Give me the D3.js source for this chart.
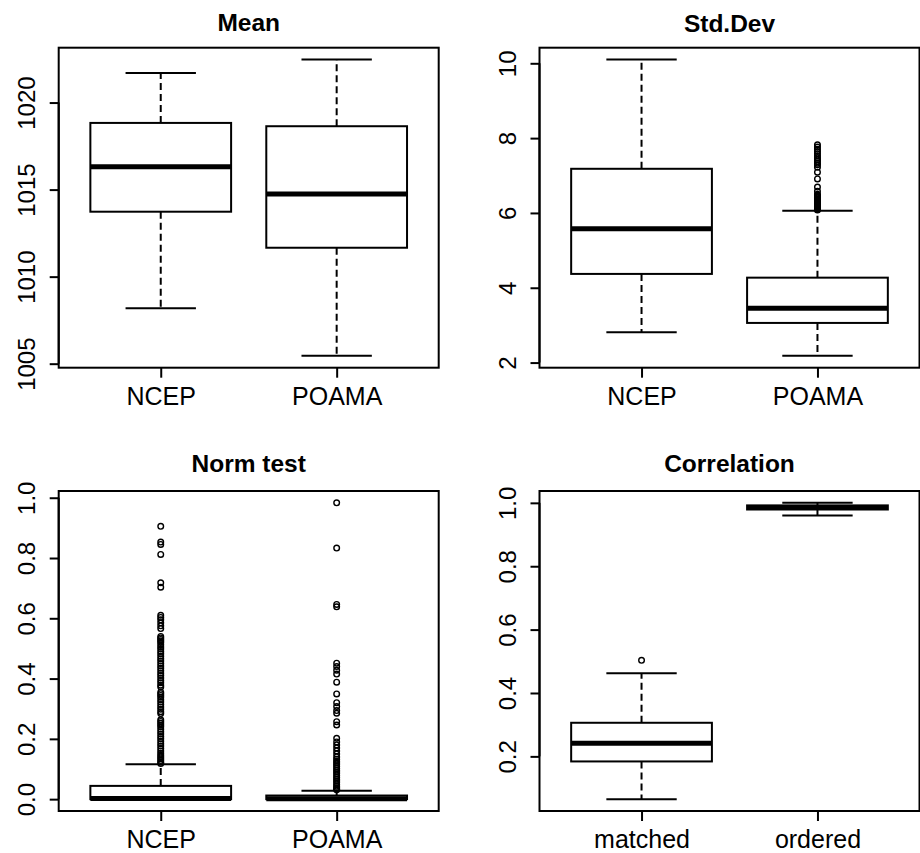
<!DOCTYPE html>
<html>
<head>
<meta charset="utf-8">
<script src="https://cdn.jsdelivr.net/npm/d3@7"></script>
<style>
  html, body { margin: 0; padding: 0; background: #fff; }
  svg { display: block; font-family: "Liberation Sans", Arial, Helvetica, sans-serif; }
</style>
</head>
<body>
<svg id="chart" width="920" height="853"></svg>
<script>
// ---------------- DATA ----------------
const categoriesModel = ["NCEP", "POAMA"];
const categoriesCorr = ["matched", "ordered"];
const titles = ["Mean", "Std.Dev", "Norm test", "Correlation"];

// box statistics: [lower whisker, Q1, median, Q3, upper whisker]
const meanNCEP  = [1008.19, 1013.73, 1016.31, 1018.83, 1021.70];
const meanPOAMA = [1005.45, 1011.66, 1014.74, 1018.64, 1022.47];

const sdNCEP  = [2.81, 4.37, 5.58, 7.18, 10.10];
const sdPOAMA = [2.18, 3.06, 3.45, 4.27, 6.06];
const sdPOAMAOutliers = [7.82, 7.76, 7.70, 7.64, 7.58, 7.52, 7.47, 7.42, 7.38, 7.33, 7.29, 7.22, 7.09,
  6.91, 6.69, 6.58, 6.50, 6.47, 6.44, 6.42, 6.40, 6.38, 6.36, 6.34, 6.32, 6.30, 6.28, 6.26,
  6.24, 6.22, 6.20, 6.18, 6.16, 6.14, 6.12, 6.10, 6.08];

const normNCEP  = [0.000, 0.000, 0.002, 0.044, 0.116];
const normNCEPOutliers = [0.905, 0.853, 0.845, 0.812, 0.718, 0.703, 0.610, 0.603, 0.595, 0.585,
  0.575, 0.566, 0.540, 0.535, 0.530, 0.525, 0.520, 0.512, 0.505, 0.498, 0.490, 0.482, 0.474,
  0.466, 0.458, 0.450, 0.442, 0.434, 0.426, 0.418, 0.410, 0.402, 0.394, 0.386, 0.378, 0.372,
  0.355, 0.350, 0.344, 0.338, 0.330, 0.322, 0.314, 0.306, 0.298, 0.290, 0.284, 0.263, 0.258,
  0.252, 0.246, 0.240, 0.232, 0.224, 0.216, 0.208, 0.200, 0.192, 0.184, 0.176, 0.168, 0.160,
  0.152, 0.146, 0.140, 0.134, 0.128, 0.122, 0.118];
const normPOAMA = [0.000, 0.000, 0.001, 0.012, 0.028];
const normPOAMAOutliers = [0.983, 0.833, 0.646, 0.638, 0.451, 0.440, 0.428, 0.415, 0.388, 0.349,
  0.320, 0.307, 0.294, 0.285, 0.257, 0.246, 0.202, 0.190, 0.180, 0.170, 0.160, 0.150, 0.140,
  0.132, 0.126, 0.120, 0.114, 0.108, 0.102, 0.096, 0.090, 0.084, 0.078, 0.072, 0.066, 0.060,
  0.054, 0.048, 0.043, 0.038, 0.034, 0.031];

const corrMatched = [0.065, 0.184, 0.241, 0.306, 0.462];
const corrMatchedOutliers = [0.503];
const corrOrdered = [0.960, 0.979, 0.985, 0.992, 1.000];

const ticksMean = [1005, 1010, 1015, 1020];
const ticksSd = [2, 4, 6, 8, 10];
const ticksNorm = [0, 0.2, 0.4, 0.6, 0.8, 1.0];
const ticksCorr = [0.2, 0.4, 0.6, 0.8, 1.0];

// ---------------- PANELS ----------------
const panels = [
  { title: titles[0], cats: categoriesModel, boxes: [meanNCEP, meanPOAMA], outliers: [[], []],
    ticks: ticksMean, fmt: d3.format("d"),
    box: { x0: 58.7, x1: 438.7, y0: 47.7, y1: 367.7 }, titleY: 30.7 },
  { title: titles[1], cats: categoriesModel, boxes: [sdNCEP, sdPOAMA], outliers: [[], sdPOAMAOutliers],
    ticks: ticksSd, fmt: d3.format("d"),
    box: { x0: 539.5, x1: 919.5, y0: 47.7, y1: 367.7 }, titleY: 31.5 },
  { title: titles[2], cats: categoriesModel, boxes: [normNCEP, normPOAMA], outliers: [normNCEPOutliers, normPOAMAOutliers],
    ticks: ticksNorm, fmt: d3.format(".1f"),
    box: { x0: 58.7, x1: 438.7, y0: 491, y1: 811 }, titleY: 471.7 },
  { title: titles[3], cats: categoriesCorr, boxes: [corrMatched, corrOrdered], outliers: [corrMatchedOutliers, []],
    ticks: ticksCorr, fmt: d3.format(".1f"),
    box: { x0: 539.5, x1: 919.5, y0: 491, y1: 811 }, titleY: 471.7 }
];

const svg = d3.select("#chart");
const FONT_Y = 24, FONT_X = 25, FONT_T = 24.5;

panels.forEach(p => {
  const g = svg.append("g");
  const b = p.box;

  const allVals = [].concat(...p.boxes, ...p.outliers);
  const [mn, mx] = d3.extent(allVals);
  const ext = (mx - mn) * 0.04;
  const y = d3.scaleLinear().domain([mn - ext, mx + ext]).range([b.y1, b.y0]);
  const x = d3.scaleLinear().domain([0.42, 2.58]).range([b.x0, b.x1]);

  // boxes
  p.boxes.forEach((s, i) => {
    const c = i + 1;
    const [lo, q1, med, q3, hi] = s;
    // whiskers (dashed)
    g.append("line").attr("x1", x(c)).attr("x2", x(c)).attr("y1", y(q3)).attr("y2", y(hi))
      .attr("stroke", "#000").attr("stroke-width", 2).attr("stroke-dasharray", "7,4");
    g.append("line").attr("x1", x(c)).attr("x2", x(c)).attr("y1", y(q1)).attr("y2", y(lo))
      .attr("stroke", "#000").attr("stroke-width", 2).attr("stroke-dasharray", "7,4");
    // staples
    [lo, hi].forEach(v => {
      g.append("line").attr("x1", x(c - 0.2)).attr("x2", x(c + 0.2)).attr("y1", y(v)).attr("y2", y(v))
        .attr("stroke", "#000").attr("stroke-width", 2);
    });
    // box
    g.append("rect").attr("x", x(c - 0.4)).attr("width", x(c + 0.4) - x(c - 0.4))
      .attr("y", y(q3)).attr("height", Math.max(0, y(q1) - y(q3)))
      .attr("fill", "none").attr("stroke", "#000").attr("stroke-width", 2);
    // median
    g.append("line").attr("x1", x(c - 0.4)).attr("x2", x(c + 0.4)).attr("y1", y(med)).attr("y2", y(med))
      .attr("stroke", "#000").attr("stroke-width", 5);
    // outliers
    g.selectAll(null).data(p.outliers[i]).enter().append("circle")
      .attr("cx", x(c)).attr("cy", d => y(d)).attr("r", 2.8)
      .attr("fill", "none").attr("stroke", "#000").attr("stroke-width", 1.4);
  });

  // frame
  g.append("rect").attr("x", b.x0).attr("y", b.y0).attr("width", b.x1 - b.x0).attr("height", b.y1 - b.y0)
    .attr("fill", "none").attr("stroke", "#000").attr("stroke-width", 2);

  // y axis
  const ya = g.append("g").attr("transform", `translate(${b.x0},0)`)
    .call(d3.axisLeft(y).tickValues(p.ticks).tickFormat(p.fmt).tickSize(9).tickSizeOuter(0));
  ya.select(".domain").remove();
  ya.append("line").attr("x1", 0).attr("x2", 0)
    .attr("y1", y(p.ticks[0])).attr("y2", y(p.ticks[p.ticks.length - 1]))
    .attr("stroke", "#000").attr("stroke-width", 2);
  ya.selectAll(".tick line").attr("stroke", "#000").attr("stroke-width", 2);
  ya.selectAll(".tick text")
    .attr("transform", "rotate(-90)")
    .attr("x", 0).attr("y", -24).attr("dy", null)
    .attr("text-anchor", "middle")
    .attr("fill", "#000")
    .style("font-size", FONT_Y + "px")
    .style("font-family", "'Liberation Sans', Arial, sans-serif");

  // x axis
  const xa = g.append("g").attr("transform", `translate(0,${b.y1})`)
    .call(d3.axisBottom(x).tickValues([1, 2]).tickFormat(d => p.cats[d - 1]).tickSize(10).tickSizeOuter(0));
  xa.select(".domain").remove();
  xa.selectAll(".tick line").attr("stroke", "#000").attr("stroke-width", 2);
  xa.selectAll(".tick text")
    .attr("y", 37).attr("dy", null)
    .attr("fill", "#000")
    .style("font-size", FONT_X + "px")
    .style("font-family", "'Liberation Sans', Arial, sans-serif");

  // title
  g.append("text").attr("x", (b.x0 + b.x1) / 2).attr("y", p.titleY)
    .attr("text-anchor", "middle").attr("font-weight", "bold")
    .style("font-size", FONT_T + "px").attr("fill", "#000")
    .text(p.title);
});
</script>
</body>
</html>
